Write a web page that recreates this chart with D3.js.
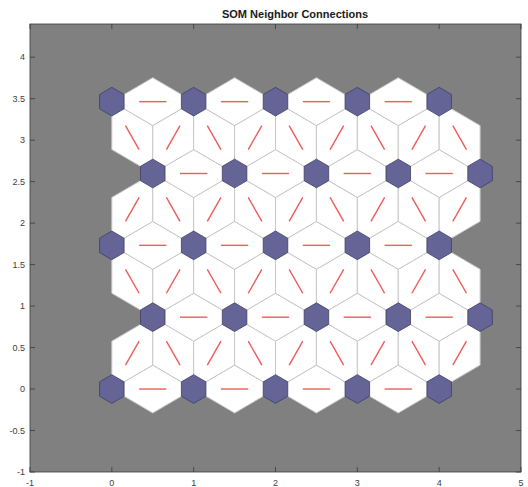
<!DOCTYPE html>
<html>
<head>
<meta charset="utf-8">
<script src="https://cdn.jsdelivr.net/npm/d3@7"></script>
<style>
  html, body { margin: 0; padding: 0; background: #ffffff; }
  svg { display: block; }
  text { font-family: "Liberation Sans", Arial, Helvetica, sans-serif; }
</style>
</head>
<body>
<svg id="chart" width="528" height="487"></svg>
<script>
// ---- Data ----
const chartTitle = "SOM Neighbor Connections";
// Neuron positions of a 5x5 hexagonal SOM layer (hextop)
const neuronX = [0, 1, 2, 3, 4,
                 0.5, 1.5, 2.5, 3.5, 4.5,
                 0, 1, 2, 3, 4,
                 0.5, 1.5, 2.5, 3.5, 4.5,
                 0, 1, 2, 3, 4];
const neuronY = [0, 0, 0, 0, 0,
                 0.866, 0.866, 0.866, 0.866, 0.866,
                 1.732, 1.732, 1.732, 1.732, 1.732,
                 2.598, 2.598, 2.598, 2.598, 2.598,
                 3.464, 3.464, 3.464, 3.464, 3.464];
const xTicks = [-1, 0, 1, 2, 3, 4, 5];
const xTickLabels = ["-1", "0", "1", "2", "3", "4", "5"];
const yTicks = [-1, -0.5, 0, 0.5, 1, 1.5, 2, 2.5, 3, 3.5, 4];
const yTickLabels = ["-1", "-0.5", "0", "0.5", "1", "1.5", "2", "2.5", "3", "3.5", "4"];
const xDomain = [-1, 5];
const yDomain = [-1, 4.4];

// ---- Layout ----
const svg = d3.select("#chart");
const mLeft = 30, mRight = 521, mTop = 24, mBottom = 472;
const x = d3.scaleLinear().domain(xDomain).range([mLeft, mRight]);
const y = d3.scaleLinear().domain(yDomain).range([mBottom, mTop]);

svg.append("defs").append("clipPath").attr("id", "clip")
  .append("rect").attr("x", mLeft).attr("y", mTop)
  .attr("width", mRight - mLeft).attr("height", mBottom - mTop);

svg.append("rect").attr("x", mLeft).attr("y", mTop)
  .attr("width", mRight - mLeft).attr("height", mBottom - mTop)
  .attr("fill", "#808080");

const plot = svg.append("g").attr("clip-path", "url(#clip)");

const neurons = neuronX.map((v, i) => ({x: v, y: neuronY[i]}));

// neighbor pairs (distance ~ 1)
const pairs = [];
for (let i = 0; i < neurons.length; i++) {
  for (let j = i + 1; j < neurons.length; j++) {
    const d = Math.hypot(neurons[i].x - neurons[j].x, neurons[i].y - neurons[j].y);
    if (d < 1.01) pairs.push([neurons[i], neurons[j]]);
  }
}

const line = d3.line().x(d => x(d[0])).y(d => y(d[1]));
const h = Math.sqrt(3) / 6; // centroid offset for unit edge

// connection regions (rhombi)
plot.append("g").selectAll("path").data(pairs).join("path")
  .attr("d", ([a, b]) => {
    const dx = b.x - a.x, dy = b.y - a.y;
    const len = Math.hypot(dx, dy);
    const nx = -dy / len * h, ny = dx / len * h;
    const mx = (a.x + b.x) / 2, my = (a.y + b.y) / 2;
    return line([[a.x, a.y], [mx + nx, my + ny], [b.x, b.y], [mx - nx, my - ny]]) + "Z";
  })
  .attr("fill", "#ffffff")
  .attr("stroke", "#c8c8c8")
  .attr("stroke-width", 1)
  .attr("stroke-linejoin", "round");

// red connection lines
plot.append("g").selectAll("line").data(pairs).join("line")
  .attr("x1", ([a, b]) => x(a.x + (b.x - a.x) / 3))
  .attr("y1", ([a, b]) => y(a.y + (b.y - a.y) / 3))
  .attr("x2", ([a, b]) => x(a.x + 2 * (b.x - a.x) / 3))
  .attr("y2", ([a, b]) => y(a.y + 2 * (b.y - a.y) / 3))
  .attr("stroke", "#ee5c5c")
  .attr("stroke-width", 1.4);

// neurons
const shapeX = [-1, 0, 1, 1, 0, -1].map(v => v * 0.5 * 0.3);
const shapeY = [1, 2, 1, -1, -2, -1].map(v => v * Math.sqrt(0.75) / 3 * 0.3);
plot.append("g").selectAll("path").data(neurons).join("path")
  .attr("d", n => line(shapeX.map((sx, k) => [n.x + sx, n.y + shapeY[k]])) + "Z")
  .attr("fill", "#646496")
  .attr("stroke", "#3f3f66")
  .attr("stroke-width", 0.8);

// ---- Axes ----
const axisColor = "#3a3a3a";
const tickLen = 5;
const axesG = svg.append("g");
axesG.append("rect").attr("x", mLeft).attr("y", mTop)
  .attr("width", mRight - mLeft).attr("height", mBottom - mTop)
  .attr("fill", "none").attr("stroke", axisColor).attr("stroke-width", 0.8);

xTicks.forEach((t, i) => {
  const px = x(t);
  axesG.append("line").attr("x1", px).attr("x2", px).attr("y1", mBottom).attr("y2", mBottom - tickLen)
    .attr("stroke", axisColor).attr("stroke-width", 0.8);
  axesG.append("line").attr("x1", px).attr("x2", px).attr("y1", mTop).attr("y2", mTop + tickLen)
    .attr("stroke", axisColor).attr("stroke-width", 0.8);
  axesG.append("text").attr("x", px).attr("y", 486)
    .attr("text-anchor", "middle").attr("font-size", 9).attr("fill", "#404040")
    .text(xTickLabels[i]);
});
yTicks.forEach((t, i) => {
  const py = y(t);
  axesG.append("line").attr("x1", mLeft).attr("x2", mLeft + tickLen).attr("y1", py).attr("y2", py)
    .attr("stroke", axisColor).attr("stroke-width", 0.8);
  axesG.append("line").attr("x1", mRight).attr("x2", mRight - tickLen).attr("y1", py).attr("y2", py)
    .attr("stroke", axisColor).attr("stroke-width", 0.8);
  axesG.append("text").attr("x", 25).attr("y", py + 3.2)
    .attr("text-anchor", "end").attr("font-size", 9).attr("fill", "#404040")
    .text(yTickLabels[i]);
});

svg.append("text").attr("x", 295).attr("y", 18)
  .attr("text-anchor", "middle").attr("font-size", 11).attr("font-weight", "bold")
  .attr("fill", "#1a1a1a").text(chartTitle);
</script>
</body>
</html>
